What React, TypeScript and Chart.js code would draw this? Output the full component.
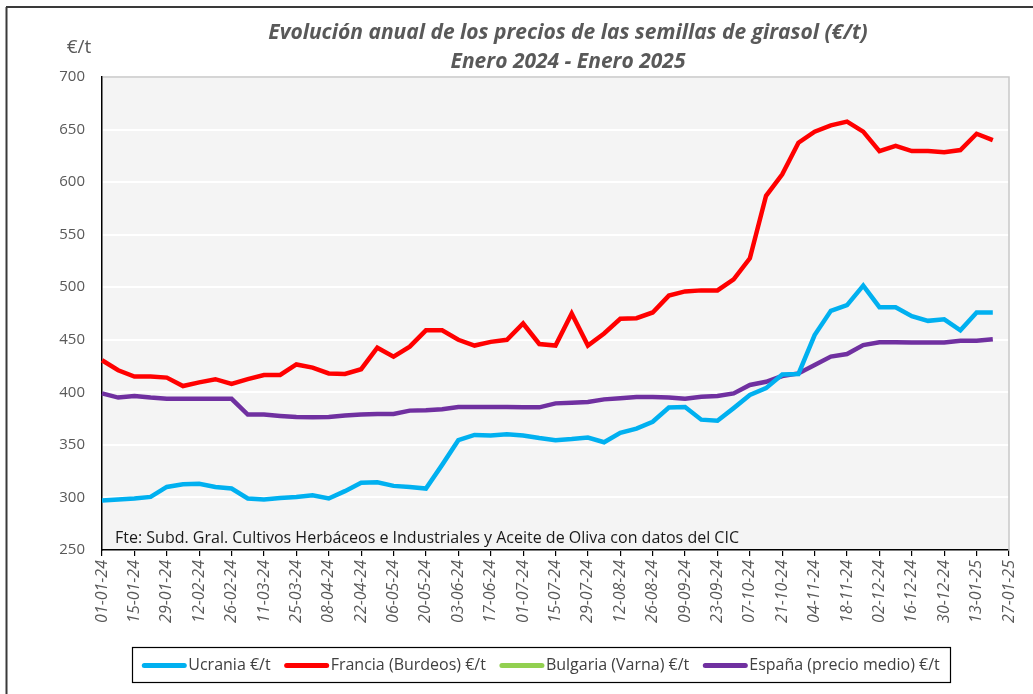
import React, { useEffect, useRef } from "react";
import { Chart, registerables } from "chart.js";

Chart.register(...registerables);

const dateLabels: string[] = [
  "01-01-24", "08-01-24", "15-01-24", "22-01-24", "29-01-24", "05-02-24", "12-02-24", "19-02-24",
  "26-02-24", "04-03-24", "11-03-24", "18-03-24", "25-03-24", "01-04-24", "08-04-24", "15-04-24",
  "22-04-24", "29-04-24", "06-05-24", "13-05-24", "20-05-24", "27-05-24", "03-06-24", "10-06-24",
  "17-06-24", "24-06-24", "01-07-24", "08-07-24", "15-07-24", "22-07-24", "29-07-24", "05-08-24",
  "12-08-24", "19-08-24", "26-08-24", "02-09-24", "09-09-24", "16-09-24", "23-09-24", "30-09-24",
  "07-10-24", "14-10-24", "21-10-24", "28-10-24", "04-11-24", "11-11-24", "18-11-24", "25-11-24",
  "02-12-24", "09-12-24", "16-12-24", "23-12-24", "30-12-24", "06-01-25", "13-01-25", "20-01-25",
  "27-01-25",
];

const ucrania: number[] = [
  297, 298, 299, 300.5, 310, 312.5, 313, 310, 308.5, 299, 298, 299.5, 300.5, 302, 299, 306,
  314, 314.5, 311, 310, 308.5, 331, 354.5, 359.5, 359, 360, 359, 356.5, 354.5, 355.5, 357, 352.5,
  361.5, 365.5, 372, 385.5, 386, 374, 373, 385, 397.5, 404, 417, 417.5, 454.5, 477.5, 483, 501.5,
  481, 481, 472.5, 468, 469.5, 459, 476, 476,
];

const francia: number[] = [
  430.5, 421, 415, 415, 414, 406, 409.5, 412.5, 408, 412.5, 416.5, 416.5, 426.5, 423.5, 418, 417.5,
  422, 442.5, 434, 443.5, 459, 459, 450, 444.5, 448, 450, 465.5, 446, 444.5, 475, 444.5, 456,
  470, 470.5, 476, 492, 496, 497, 497, 507.5, 527.5, 587, 607.5, 637.5, 648, 654, 657.5, 648,
  629.5, 634.5, 629.5, 629.5, 628.5, 630.5, 646, 640,
];

const bulgaria: (number | null)[] = [];

const espana: number[] = [
  399, 395, 396.5, 395, 394, 394, 394, 394, 393.8, 378.8, 378.8, 377.5, 376.5, 376.2, 376.5, 378,
  378.8, 379.4, 379.4, 382.6, 383, 384, 386, 386, 386, 386, 385.7, 385.7, 389.5, 390, 390.8, 393.3,
  394.3, 395.5, 395.5, 395, 394, 395.8, 396.5, 399, 407, 410, 415.5, 418, 426, 434, 436.5, 445,
  447.6, 447.6, 447.4, 447.4, 447.4, 449, 449, 450.4,
];

const seriesNames = ["Ucrania €/t", "Francia (Burdeos) €/t", "Bulgaria (Varna) €/t", "España (precio medio) €/t"];
const seriesColors = ["#00b0f0", "#ff0000", "#92d050", "#7030a0"];

const titleLine1 = "Evolución anual de los precios de las semillas de girasol (€/t)";
const titleLine2 = "Enero 2024 - Enero 2025";
const yUnit = "€/t";
const sourceText = "Fte: Subd. Gral. Cultivos Herbáceos e Industriales y Aceite de Oliva con datos del CIC";

const FONT = "'Open Sans', Lato, sans-serif";

const decorPlugin = {
  id: "decor",
  beforeDraw(chart: any) {
    const { ctx, chartArea } = chart;
    ctx.save();
    ctx.fillStyle = "#ffffff";
    ctx.fillRect(0, 0, chart.width, chart.height);
    ctx.strokeStyle = "#3a3a3a";
    ctx.lineWidth = 2;
    ctx.beginPath();
    ctx.moveTo(6, 7);
    ctx.lineTo(chart.width, 7);
    ctx.moveTo(6.5, 7);
    ctx.lineTo(6.5, chart.height);
    ctx.stroke();
    ctx.fillStyle = "#f4f4f4";
    ctx.fillRect(chartArea.left, chartArea.top, chartArea.right - chartArea.left, chartArea.bottom - chartArea.top);
    ctx.restore();
  },
  beforeDatasetsDraw(chart: any) {
    const { ctx, chartArea } = chart;
    ctx.save();
    ctx.strokeStyle = "#c8c8c8";
    ctx.lineWidth = 1.5;
    ctx.beginPath();
    ctx.moveTo(chartArea.left + 1, chartArea.top);
    ctx.lineTo(chartArea.right, chartArea.top);
    ctx.lineTo(chartArea.right, chartArea.bottom);
    ctx.stroke();
    ctx.restore();
  },
  afterDraw(chart: any) {
    const { ctx } = chart;
    ctx.save();
    ctx.fillStyle = "#595959";
    ctx.font = `italic bold 21px ${FONT}`;
    ctx.textAlign = "center";
    ctx.textBaseline = "middle";
    ctx.fillText(titleLine1, 568, 33);
    ctx.fillText(titleLine2, 568, 62);
    ctx.font = `19px ${FONT}`;
    ctx.fillText(yUnit, 79, 48);
    ctx.fillStyle = "#1a1a1a";
    ctx.font = `16px ${FONT}`;
    ctx.textAlign = "left";
    ctx.textBaseline = "alphabetic";
    ctx.fillText(sourceText, 115, 543);
    const bx = 132, by = 647, bw = 818, bh = 35;
    ctx.strokeStyle = "#000000";
    ctx.lineWidth = 1.2;
    ctx.strokeRect(bx + 0.5, by + 0.5, bw, bh);
    ctx.font = `16px ${FONT}`;
    const sw = 44, gapA = 2, gapB = 14;
    const widths = seriesNames.map((n) => ctx.measureText(n).width);
    const total = widths.reduce((a, w) => a + sw + gapA + w, 0) + gapB * (seriesNames.length - 1);
    let x = bx + (bw - total) / 2;
    const cy = by + bh / 2 + 1;
    ctx.textBaseline = "middle";
    seriesNames.forEach((n, i) => {
      ctx.strokeStyle = seriesColors[i];
      ctx.lineWidth = 5;
      ctx.lineCap = "round";
      ctx.beginPath();
      ctx.moveTo(x + 2, cy);
      ctx.lineTo(x + sw - 2, cy);
      ctx.stroke();
      x += sw + gapA;
      ctx.fillStyle = "#404040";
      ctx.fillText(n, x, cy);
      x += widths[i] + gapB;
    });
    ctx.restore();
  },
};

export default function App() {
  const ref = useRef<HTMLCanvasElement | null>(null);

  useEffect(() => {
    document.body.style.margin = "0";
    if (!ref.current) return;
    const datasets = [ucrania, francia, bulgaria, espana].map((d, i) => ({
      label: seriesNames[i],
      data: d,
      borderColor: seriesColors[i],
      backgroundColor: seriesColors[i],
      borderWidth: 4.5,
      pointRadius: 0,
      tension: 0,
      fill: false,
    }));
    const chart = new Chart(ref.current, {
      type: "line",
      data: { labels: dateLabels, datasets },
      options: {
        responsive: false,
        animation: false,
        layout: { padding: { left: 52, top: 77, right: 24, bottom: 64 } },
        plugins: { legend: { display: false }, tooltip: { enabled: false }, title: { display: false } },
        scales: {
          x: {
            type: "category",
            offset: false,
            afterFit: (s: any) => { s.height = 80; },
            grid: { display: true, drawOnChartArea: false, drawTicks: true, tickLength: 6, color: "#000000", lineWidth: 1.2 },
            border: { display: true, color: "#000000", width: 1.5 },
            ticks: {
              autoSkip: false,
              maxRotation: 90,
              minRotation: 90,
              padding: 4,
              color: "#595959",
              font: { family: FONT, size: 16, style: "italic" },
              callback: (_v: any, i: number) => (i % 2 === 0 ? dateLabels[i] : null),
            },
          },
          y: {
            min: 250,
            max: 700,
            afterFit: (s: any) => { s.width = 50; },
            grid: { color: "#ffffff", lineWidth: 2, drawTicks: false },
            border: { display: true, color: "#000000", width: 1.5 },
            ticks: { stepSize: 50, padding: 17, color: "#595959", font: { family: FONT, size: 15 } },
          },
        },
      },
      plugins: [decorPlugin],
    } as any);
    return () => chart.destroy();
  }, []);

  return (
    <div style={{ width: 1033, height: 694 }}>
      <canvas ref={ref} width={1033} height={694} style={{ display: "block" }} />
    </div>
  );
}
